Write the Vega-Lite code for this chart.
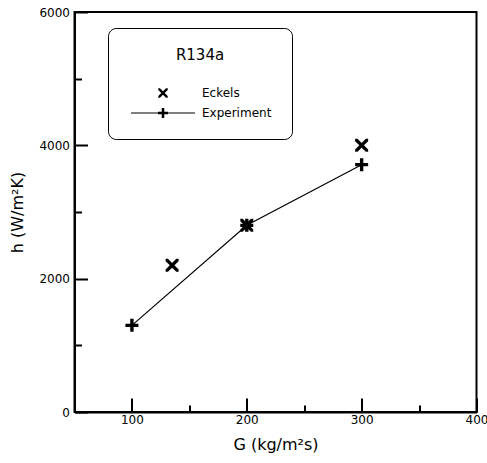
{
  "$schema": "https://vega.github.io/schema/vega-lite/v6.json",
  "width": 402,
  "height": 400,
  "autosize": {"type": "none"},
  "padding": {"left": 74.5, "top": 12, "right": 10.5, "bottom": 51},
  "background": "white",
  "data": {
    "values": [
      {"series": "Eckels", "G": 135, "h": 2200},
      {"series": "Eckels", "G": 200, "h": 2800},
      {"series": "Eckels", "G": 300, "h": 4000},
      {"series": "Experiment", "G": 100, "h": 1300},
      {"series": "Experiment", "G": 200, "h": 2800},
      {"series": "Experiment", "G": 300, "h": 3710}
    ]
  },
  "layer": [
    {
      "transform": [{"filter": "datum.series === 'Experiment'"}],
      "mark": {"type": "line", "color": "black", "strokeWidth": 1.2},
      "encoding": {
        "x": {
          "field": "G", "type": "quantitative",
          "scale": {"domain": [50, 400], "nice": false, "zero": false},
          "axis": {
            "title": "G (kg/m²s)",
            "values": [100, 150, 200, 250, 300, 350, 400],
            "format": "d",
            "labelExpr": "datum.value % 100 === 0 ? datum.label : ''",
            "tickSize": {"condition": {"test": "datum.value % 100 === 0", "value": -14}, "value": -7},
            "labelPadding": 16,
            "labelFlush": false,
            "labelOverlap": false,
            "titlePadding": 4
          }
        },
        "y": {
          "field": "h", "type": "quantitative",
          "scale": {"domain": [0, 6000], "nice": false},
          "axis": {
            "title": "h (W/m²K)",
            "values": [0, 1000, 2000, 3000, 4000, 5000, 6000],
            "format": "d",
            "labelExpr": "datum.value % 2000 === 0 ? datum.label : ''",
            "tickSize": {"condition": {"test": "datum.value % 2000 === 0", "value": -13}, "value": -7},
            "labelPadding": 18,
            "labelFlush": false,
            "labelOverlap": false,
            "titlePadding": 13
          }
        }
      }
    },
    {
      "mark": {"type": "point", "filled": true, "color": "black", "opacity": 1, "size": 169, "strokeWidth": 0},
      "encoding": {
        "x": {"field": "G", "type": "quantitative"},
        "y": {"field": "h", "type": "quantitative"},
        "shape": {
          "field": "series", "type": "nominal",
          "scale": {
            "domain": ["Eckels", "Experiment"],
            "range": [
              "M-1,-1L-0.64,-1L0,-0.36L0.64,-1L1,-1L1,-0.64L0.36,0L1,0.64L1,1L0.64,1L0,0.36L-0.64,1L-1,1L-1,0.64L-0.36,0L-1,-0.64Z",
              "M-0.26,-1L0.26,-1L0.26,-0.26L1,-0.26L1,0.26L0.26,0.26L0.26,1L-0.26,1L-0.26,0.26L-1,0.26L-1,-0.26L-0.26,-0.26Z"
            ]
          },
          "legend": null
        }
      }
    },
    {
      "transform": [{"filter": "false"}],
      "mark": {"type": "point", "filled": true, "color": "black", "opacity": 1, "strokeWidth": 0},
      "encoding": {
        "x": {"field": "G", "type": "quantitative"},
        "y": {"field": "h", "type": "quantitative"},
        "shape": {
          "field": "series", "type": "nominal",
          "scale": {
            "domain": ["Eckels", "Experiment"],
            "range": [
              "M-0.59,-0.59L-0.38,-0.59L0,-0.21L0.38,-0.59L0.59,-0.59L0.59,-0.38L0.21,0L0.59,0.38L0.59,0.59L0.38,0.59L0,0.21L-0.38,0.59L-0.59,0.59L-0.59,0.38L-0.21,0L-0.59,-0.38Z",
              "M-0.16,-0.62L0.16,-0.62L0.16,-0.16L0.62,-0.16L0.62,0.16L0.16,0.16L0.16,0.62L-0.16,0.62L-0.16,0.16L-0.62,0.16L-0.62,-0.16L-0.16,-0.16ZM-4,-0.07L4,-0.07L4,0.07L-4,0.07Z"
            ]
          },
          "legend": {
            "orient": "none",
            "legendX": 33.5,
            "legendY": 16,
            "title": "R134a",
            "titleFont": "DejaVu Sans",
            "titleFontSize": 15,
            "titleFontWeight": "normal",
            "titleColor": "black",
            "titleAnchor": "middle",
            "titleAlign": "center",
            "titlePadding": 22,
            "labelFont": "DejaVu Sans",
            "labelFontSize": 12,
            "labelColor": "black",
            "labelOffset": 31,
            "symbolOffset": 27,
            "symbolSize": 256,
            "symbolFillColor": "black",
            "symbolStrokeColor": "black",
            "symbolStrokeWidth": 0,
            "symbolOpacity": 1,
            "rowPadding": 6,
            "padding": 20,
            "strokeColor": "black",
            "cornerRadius": 8,
            "fillColor": "white",
            "encode": {"legend": {"update": {"strokeWidth": {"value": 1.5}}}}
          }
        }
      }
    }
  ],
  "resolve": {"scale": {"shape": "independent"}, "legend": {"shape": "independent"}},
  "config": {
    "view": {"stroke": "black", "strokeWidth": 2},
    "axis": {
      "grid": false,
      "domainColor": "black",
      "domainWidth": 2,
      "tickColor": "black",
      "tickWidth": 2,
      "labelFont": "DejaVu Sans",
      "labelFontSize": 12,
      "labelColor": "black",
      "titleFont": "DejaVu Sans",
      "titleFontSize": 16,
      "titleFontWeight": "normal",
      "titleColor": "black"
    }
  }
}
